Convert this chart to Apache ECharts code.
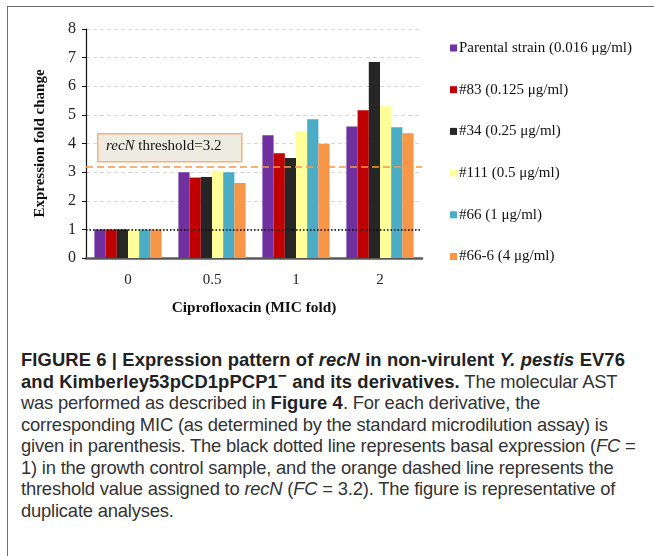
<!DOCTYPE html>
<html>
<head>
<meta charset="utf-8">
<script src="https://cdn.jsdelivr.net/npm/echarts@6/dist/echarts.min.js"></script>
<style>
  html, body { margin: 0; padding: 0; background: #fff; }
  .page { position: relative; width: 654px; height: 556px; overflow: hidden; }
  .frame {
    position: absolute; left: 7px; top: 6px; width: 660px; height: 560px;
    border-top: 1.5px solid #6f6f6f; border-left: 1.5px solid #6f6f6f;
  }
  #chart { position: absolute; left: 0; top: 0; width: 654px; height: 340px; }
  .caption {
    position: absolute; left: 21px; top: 349px; width: 630px;
    font-family: "Liberation Sans", Arial, sans-serif;
    font-size: 18.4px; line-height: 21.5px; color: #333; letter-spacing: -0.2px;
  }
  .caption b { color: #222; letter-spacing: 0.1px; }
  .caption div { white-space: nowrap; }
</style>
</head>
<body>
<div class="page">
  <div class="frame"></div>
  <div id="chart"></div>
  <div class="caption">
    <div><b>FIGURE 6 | Expression pattern of <i>recN</i> in non-virulent <i>Y. pestis</i> EV76</b></div>
    <div><b>and Kimberley53pCD1pPCP1<sup style="line-height:0">&minus;</sup> and its derivatives.</b> The molecular AST</div>
    <div>was performed as described in <b>Figure 4</b>. For each derivative, the</div>
    <div>corresponding MIC (as determined by the standard microdilution assay) is</div>
    <div>given in parenthesis. The black dotted line represents basal expression (<i>FC</i> =</div>
    <div>1) in the growth control sample, and the orange dashed line represents the</div>
    <div>threshold value assigned to <i>recN</i> (<i>FC</i> = 3.2). The figure is representative of</div>
    <div>duplicate analyses.</div>
  </div>
</div>
<script>
// categories: ciprofloxacin MIC fold
var categories = ["0", "0.5", "1", "2"];
var strainNames = [
  "Parental strain (0.016 \u03bcg/ml)",
  "#83 (0.125 \u03bcg/ml)",
  "#34 (0.25 \u03bcg/ml)",
  "#111 (0.5 \u03bcg/ml)",
  "#66 (1 \u03bcg/ml)",
  "#66-6 (4 \u03bcg/ml)"
];
// fold change per strain, one value per category
var parental = [1, 3.0, 4.29, 4.59];
var s83 = [1, 2.81, 3.66, 5.16];
var s34 = [1, 2.83, 3.49, 6.85];
var s111 = [1, 3.05, 4.44, 5.30];
var s66 = [1, 3.0, 4.85, 4.57];
var s66_6 = [1, 2.62, 3.99, 4.36];
var basal = 1;
var threshold = 3.2;

var strainValues = [parental, s83, s34, s111, s66, s66_6];
var strainColors = ["#7030A0", "#C00000", "#262626", "#FFFF99", "#4BACC6", "#F79646"];
var serif = '"Liberation Serif", "Times New Roman", serif';

var chartInst = echarts.init(document.getElementById("chart"));

var series = strainValues.map(function (vals, i) {
  var s = {
    name: strainNames[i],
    type: "bar",
    data: vals,
    barGap: "0%",
    barCategoryGap: "20%",
    itemStyle: { color: strainColors[i] },
    emphasis: { disabled: true }
  };
  if (i === 0) {
    // basal expression and threshold lines
    s.markLine = {
      silent: true,
      symbol: "none",
      label: { show: false },
      data: [
        { yAxis: basal, lineStyle: { color: "#000", type: [1.5, 2], width: 1.5 } },
        { yAxis: threshold, lineStyle: { color: "#F79646", type: [7, 4], width: 1.5 } }
      ]
    };
  }
  return s;
});

chartInst.setOption({
  animation: false,
  textStyle: { fontFamily: serif },
  grid: { left: 86, top: 29, width: 336, height: 229 },
  legend: {
    orient: "vertical",
    left: 445,
    top: 35,
    itemWidth: 7,
    itemHeight: 7,
    itemGap: 25.7,
    icon: "rect",
    data: strainNames,
    textStyle: { fontFamily: serif, fontSize: 15, color: "#111", lineHeight: 16, padding: [0, 0, 0, -3] }
  },
  xAxis: {
    type: "category",
    data: categories,
    name: "Ciprofloxacin (MIC fold)",
    nameLocation: "middle",
    nameGap: 43,
    nameTextStyle: { fontFamily: serif, fontSize: 15.3, fontWeight: "bold", color: "#111" },
    axisLine: { lineStyle: { color: "#595959", width: 2.5 } },
    axisTick: { show: false },
    axisLabel: { fontFamily: serif, fontSize: 15, color: "#222", margin: 15 }
  },
  yAxis: {
    type: "value",
    min: 0,
    max: 8,
    interval: 1,
    name: "Expression fold change",
    nameLocation: "middle",
    nameRotate: 90,
    nameGap: 38,
    nameTextStyle: { fontFamily: serif, fontSize: 15, fontWeight: "bold", color: "#111" },
    axisLine: { show: true, lineStyle: { color: "#111", width: 1.2 } },
    axisTick: { show: true, length: 4, lineStyle: { color: "#111" } },
    axisLabel: { fontFamily: serif, fontSize: 16, color: "#222", margin: 10 },
    splitLine: { lineStyle: { color: "#d9d9d9", type: [4, 3] } }
  },
  graphic: [
    {
      type: "rect",
      left: 97,
      top: 133,
      z: 100,
      shape: { width: 144, height: 28 },
      style: { fill: "#EEECE1", stroke: "#F5B27D", lineWidth: 1.5 }
    },
    {
      type: "text",
      left: 106,
      top: 139,
      z: 101,
      style: {
        text: "{i|recN} threshold=3.2",
        font: "15px " + serif,
        fill: "#111",
        rich: { i: { fontStyle: "italic", fontSize: 15, fontFamily: serif, fill: "#111" } }
      }
    }
  ],
  series: series
});
</script>
</body>
</html>
